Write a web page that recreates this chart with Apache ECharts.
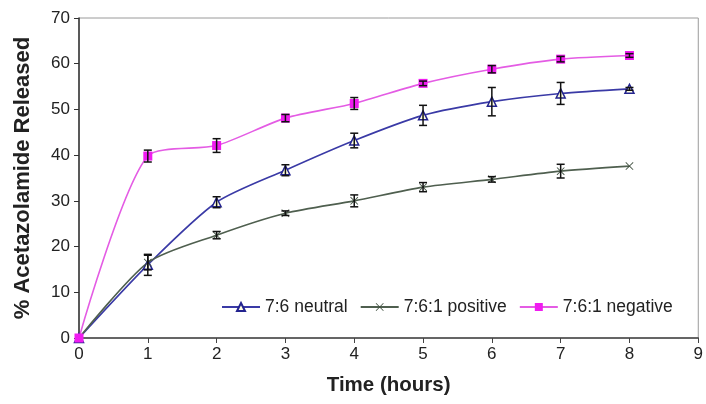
<!DOCTYPE html>
<html>
<head>
<meta charset="utf-8">
<script src="https://cdn.jsdelivr.net/npm/echarts@6/dist/echarts.min.js"></script>
<style>
  html, body { margin: 0; padding: 0; background: #fff; }
  #chart { width: 706px; height: 404px; }
</style>
</head>
<body>
<div id="chart"></div>
<script>
  // time points (hours)
  var hours = [0, 1, 2, 3, 4, 5, 6, 7, 8];

  // % released
  var neutral = [0, 16, 29.7, 36.7, 43.2, 48.7, 51.7, 53.5, 54.5];
  var positive = [0, 16.5, 22.5, 27.3, 30, 33, 34.7, 36.5, 37.6];
  var negative = [0, 39.8, 42.1, 48.1, 51.3, 55.7, 58.8, 61, 61.8];

  // error bar half widths
  var neutralErr = [0, 2.3, 1.2, 1.2, 1.6, 2.2, 3.1, 2.4, 0.3];
  var positiveErr = [0, 1.6, 0.8, 0.5, 1.3, 1.0, 0.6, 1.5, 0];
  var negativeErr = [0, 1.3, 1.5, 0.8, 1.3, 0.5, 0.8, 0.6, 0.4];

  var seriesNames = ['7:6 neutral', '7:6:1 positive', '7:6:1 negative'];

  function pairs(vals) {
    return hours.map(function (h, i) { return [h, vals[i]]; });
  }
  function errData(vals, err) {
    return hours.map(function (h, i) { return [h, vals[i] - err[i], vals[i] + err[i]]; })
      .filter(function (d) { return d[2] - d[1] > 0; });
  }

  // black error bars with caps
  function renderErr(params, api) {
    var x = api.value(0);
    var lo = api.coord([x, api.value(1)]);
    var hi = api.coord([x, api.value(2)]);
    var w = 4;
    var st = { stroke: '#111', lineWidth: 1.5 };
    return {
      type: 'group',
      children: [
        { type: 'line', shape: { x1: lo[0], y1: lo[1], x2: hi[0], y2: hi[1] }, style: st },
        { type: 'line', shape: { x1: lo[0] - w, y1: lo[1], x2: lo[0] + w, y2: lo[1] }, style: st },
        { type: 'line', shape: { x1: hi[0] - w, y1: hi[1], x2: hi[0] + w, y2: hi[1] }, style: st }
      ]
    };
  }

  // thin x marker
  var crossPath = 'path://M0,0.7L0.7,0L5,4.3L9.3,0L10,0.7L5.7,5L10,9.3L9.3,10L5,5.7L0.7,10L0,9.3L4.3,5Z';

  var font = 'Liberation Sans, Arial, sans-serif';

  var chart = echarts.init(document.getElementById('chart'));
  chart.setOption({
    animation: false,
    textStyle: { fontFamily: font },
    grid: {
      left: 79, right: 6, top: 18, bottom: 66,
      show: true, borderColor: '#9a9a9a', borderWidth: 1
    },
    legend: {
      data: seriesNames,
      left: 216, top: 293,
      itemWidth: 38, itemHeight: 10, itemGap: 12,
      textStyle: { fontSize: 17.5, color: '#222', fontFamily: font }
    },
    xAxis: {
      type: 'value', min: 0, max: 9, interval: 1,
      name: 'Time (hours)', nameLocation: 'middle', nameGap: 37,
      nameTextStyle: { fontSize: 20.5, fontWeight: 'bold', color: '#222' },
      axisLine: { lineStyle: { color: '#444', width: 1.5 } },
      axisTick: { show: true, length: 5, lineStyle: { color: '#444' } },
      axisLabel: { fontSize: 17, color: '#222', margin: 8 },
      splitLine: { show: false }
    },
    yAxis: {
      type: 'value', min: 0, max: 70, interval: 10,
      name: '% Acetazolamide Released', nameLocation: 'middle', nameGap: 45,
      nameTextStyle: { fontSize: 22, fontWeight: 'bold', color: '#222' },
      axisLine: { show: true, lineStyle: { color: '#333', width: 1.5 } },
      axisTick: { show: true, length: 5, lineStyle: { color: '#333' } },
      axisLabel: { fontSize: 17, color: '#222', margin: 9 },
      splitLine: { show: false }
    },
    series: [
      {
        name: seriesNames[0], type: 'line', smooth: 0.25, data: pairs(neutral), z: 3,
        symbol: 'triangle', symbolSize: 9,
        lineStyle: { color: '#3a3aa6', width: 1.6 },
        itemStyle: { color: '#ffffe0', borderColor: '#23238f', borderWidth: 1.5 }
      },
      {
        name: seriesNames[1], type: 'line', smooth: 0.25, data: pairs(positive), z: 3,
        symbol: crossPath, symbolSize: 8,
        lineStyle: { color: '#4f5f4f', width: 1.6 },
        itemStyle: { color: '#3e4e3e', borderWidth: 0 }
      },
      {
        name: seriesNames[2], type: 'line', smooth: 0.25, data: pairs(negative), z: 3,
        symbol: 'rect', symbolSize: 9,
        lineStyle: { color: '#e45ce4', width: 1.6 },
        itemStyle: { color: '#f01cf0', borderWidth: 0 }
      },
      { type: 'custom', renderItem: renderErr, data: errData(neutral, neutralErr), z: 4, silent: true },
      { type: 'custom', renderItem: renderErr, data: errData(positive, positiveErr), z: 4, silent: true },
      { type: 'custom', renderItem: renderErr, data: errData(negative, negativeErr), z: 4, silent: true }
    ]
  });
</script>
</body>
</html>
